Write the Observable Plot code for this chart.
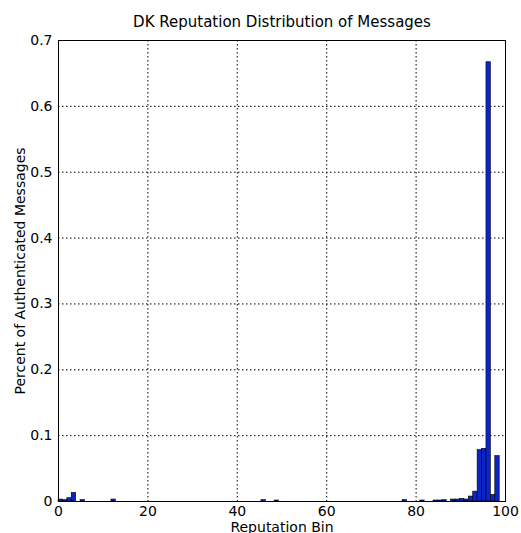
<!DOCTYPE html>
<html>
<head>
<meta charset="utf-8">
<script src="https://cdn.jsdelivr.net/npm/d3@7"></script>
<script src="https://cdn.jsdelivr.net/npm/@observablehq/plot@0.6"></script>
<style>
  html, body { margin: 0; padding: 0; background: #fff; }
  #chart svg { display: block; }
</style>
</head>
<body>
<div id="chart"></div>
<script>
const titleText = "DK Reputation Distribution of Messages";
const xLabel = "Reputation Bin";
const yLabel = "Percent of Authenticated Messages";

// histogram bin index (100 bins) and share of messages in each non-empty bin
const binIndex = [0, 1, 2, 3, 5, 12, 46, 49, 78, 82, 85, 86, 87, 89, 90, 91, 92, 93, 94, 95, 96, 97, 98, 99];
const shares   = [0.003, 0.002, 0.005, 0.013, 0.002, 0.003, 0.002, 0.0015, 0.002, 0.0015, 0.0015, 0.0015, 0.002, 0.003, 0.003, 0.004, 0.003, 0.0075, 0.015, 0.078, 0.080, 0.667, 0.010, 0.069];
const binWidth = 0.987;

const xTicks = [0, 20, 40, 60, 80, 100];
const yTicks = [0, 0.1, 0.2, 0.3, 0.4, 0.5, 0.6, 0.7];

const data = binIndex.map((b, i) => ({lo: b * binWidth, hi: (b + 1) * binWidth, share: shares[i]}));

const chart = Plot.plot({
  width: 521,
  height: 533,
  marginLeft: 58,
  marginRight: 16,
  marginTop: 40,
  marginBottom: 32,
  style: {fontFamily: "DejaVu Sans", fontSize: "14px", background: "#fff", color: "#000"},
  x: {domain: [0, 100]},
  y: {domain: [0, 0.7]},
  marks: [
    Plot.gridX(xTicks, {stroke: "#000", strokeOpacity: 1, strokeDasharray: "1.5,2.5"}),
    Plot.gridY(yTicks, {stroke: "#000", strokeOpacity: 1, strokeDasharray: "1.5,2.5"}),
    Plot.rectY(data, {x1: "lo", x2: "hi", y: "share", fill: "#0a24c8", stroke: "#000", strokeWidth: 0.6, insetLeft: 0, insetRight: 0}),
    Plot.axisX({ticks: xTicks, tickSize: 0, tickPadding: 5, fontSize: 14, label: null, tickFormat: d => String(d)}),
    Plot.axisY({ticks: yTicks, tickSize: 0, tickPadding: 6, fontSize: 14, label: null, tickFormat: d => d === 0 ? "0" : d.toFixed(1)}),
    Plot.frame({stroke: "#000", strokeWidth: 1}),
    Plot.text([titleText], {frameAnchor: "top", dy: -14, fontSize: 15, lineAnchor: "bottom", fill: "#000"}),
    Plot.text([xLabel], {frameAnchor: "bottom", dy: 30, fontSize: 14, lineAnchor: "bottom", fill: "#000"}),
    Plot.text([yLabel], {frameAnchor: "left", dx: -38, rotate: -90, textAnchor: "middle", fontSize: 14, fill: "#000"})
  ]
});
document.getElementById("chart").appendChild(chart);
</script>
</body>
</html>
